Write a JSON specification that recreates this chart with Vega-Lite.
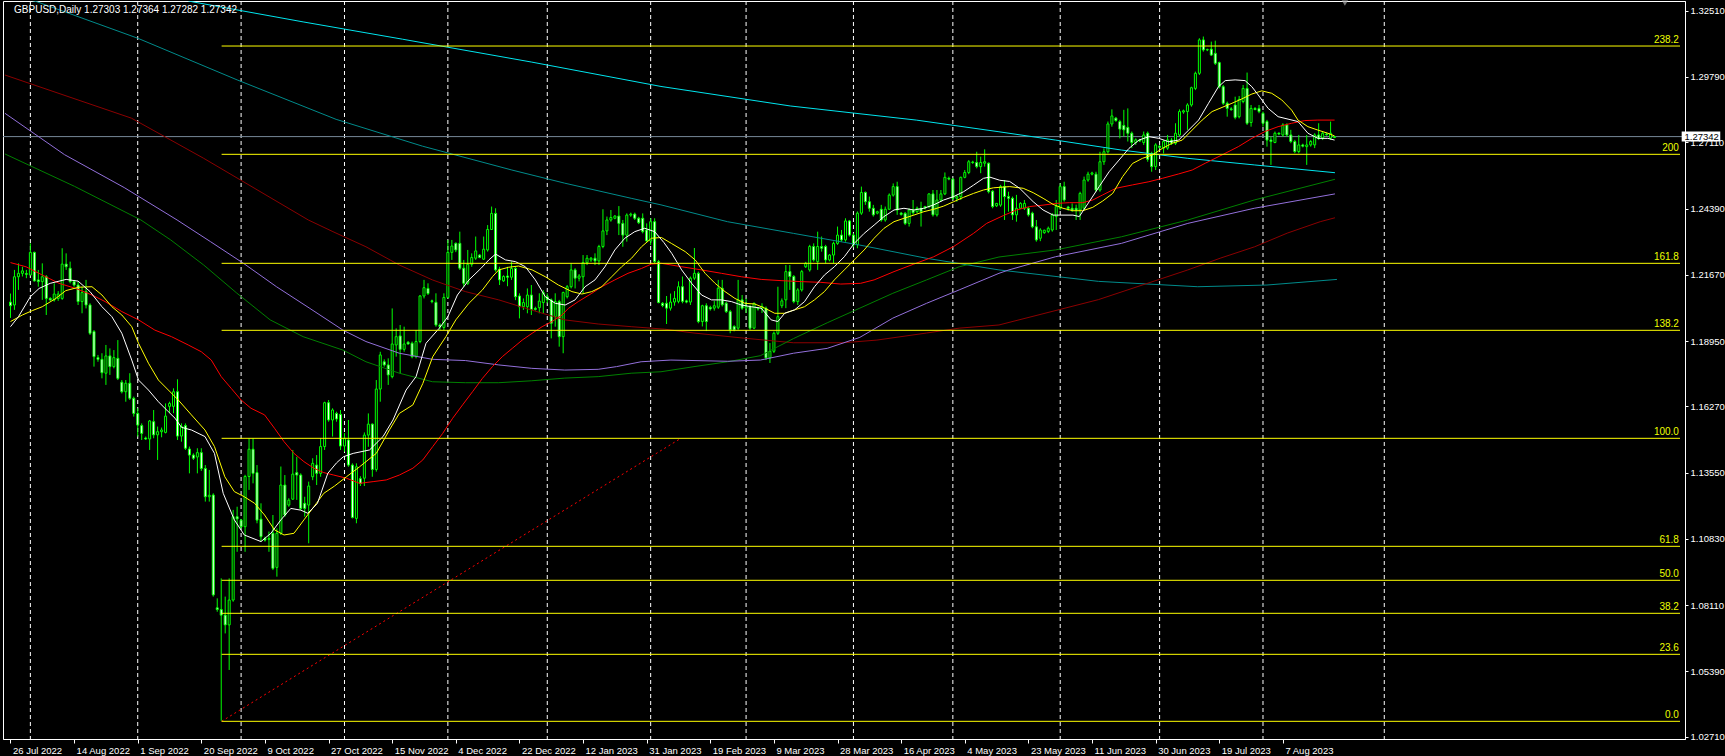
{
"$schema":"https://vega.github.io/schema/vega-lite/v6.json",
"width":1682,"height":738,
"autosize":{"type":"none"},
"padding":{"left":3,"top":1,"right":40,"bottom":17},
"background":"#000000",
"config":{"view":{"stroke":"#FFFFFF","strokeWidth":1,"fill":"#000000"},"axis":{"labelFont":"Liberation Sans","labelFontSize":9.5,"labelColor":"#FFFFFF","tickColor":"#FFFFFF","domainColor":"#FFFFFF","grid":false}},
"datasets":{
"grid":[{"g":5},{"g":32},{"g":58},{"g":84},{"g":110},{"g":135},{"g":161},{"g":185},{"g":212},{"g":237},{"g":264},{"g":289},{"g":315},{"g":345.5}],
"fib":[{"lv":"0.0","p":1.03342},{"lv":"23.6","p":1.06092},{"lv":"38.2","p":1.07775},{"lv":"50.0","p":1.0913},{"lv":"61.8","p":1.10525},{"lv":"100.0","p":1.14958},{"lv":"138.2","p":1.19391},{"lv":"161.8","p":1.22141},{"lv":"200","p":1.26615},{"lv":"238.2","p":1.3106}],
"tl":[{"i":53.1,"v":1.03342},{"i":168.6,"v":1.14958}],
"candles":[
{"i":0,"o":1.2055,"h":1.209,"l":1.199,"c":1.204},
{"i":1,"o":1.2043,"h":1.2187,"l":1.2023,"c":1.2159},
{"i":2,"o":1.2159,"h":1.2214,"l":1.2105,"c":1.2173},
{"i":3,"o":1.2173,"h":1.22,"l":1.216,"c":1.2183},
{"i":4,"o":1.2172,"h":1.2187,"l":1.2153,"c":1.2169},
{"i":5,"o":1.2166,"h":1.2296,"l":1.2166,"c":1.2259},
{"i":6,"o":1.2259,"h":1.2262,"l":1.2139,"c":1.2142},
{"i":7,"o":1.2146,"h":1.2187,"l":1.2118,"c":1.2139},
{"i":8,"o":1.2139,"h":1.2214,"l":1.2064,"c":1.2159},
{"i":9,"o":1.2159,"h":1.2166,"l":1.2002,"c":1.207},
{"i":10,"o":1.207,"h":1.2075,"l":1.206,"c":1.2064},
{"i":11,"o":1.2064,"h":1.2132,"l":1.2057,"c":1.2088},
{"i":12,"o":1.207,"h":1.21,"l":1.206,"c":1.2088},
{"i":13,"o":1.207,"h":1.2276,"l":1.2064,"c":1.2211},
{"i":14,"o":1.2211,"h":1.2255,"l":1.2187,"c":1.22},
{"i":15,"o":1.2194,"h":1.2221,"l":1.2132,"c":1.2139},
{"i":16,"o":1.2139,"h":1.2146,"l":1.2118,"c":1.2125},
{"i":17,"o":1.2125,"h":1.2139,"l":1.2043,"c":1.2057},
{"i":18,"o":1.2057,"h":1.2118,"l":1.2009,"c":1.2094},
{"i":19,"o":1.2098,"h":1.2146,"l":1.2029,"c":1.2043},
{"i":20,"o":1.2043,"h":1.205,"l":1.192,"c":1.1927},
{"i":21,"o":1.1934,"h":1.194,"l":1.179,"c":1.1831},
{"i":22,"o":1.1827,"h":1.1838,"l":1.181,"c":1.182},
{"i":23,"o":1.182,"h":1.1845,"l":1.1742,"c":1.1765},
{"i":24,"o":1.1763,"h":1.1879,"l":1.1715,"c":1.1834},
{"i":25,"o":1.1834,"h":1.1865,"l":1.1756,"c":1.179},
{"i":26,"o":1.179,"h":1.1858,"l":1.1783,"c":1.1827},
{"i":27,"o":1.1824,"h":1.1899,"l":1.1735,"c":1.1742},
{"i":28,"o":1.1726,"h":1.1735,"l":1.168,"c":1.1687},
{"i":29,"o":1.1687,"h":1.1735,"l":1.1646,"c":1.1722},
{"i":30,"o":1.1722,"h":1.1763,"l":1.1653,"c":1.166},
{"i":31,"o":1.166,"h":1.1667,"l":1.1585,"c":1.1598},
{"i":32,"o":1.1598,"h":1.1619,"l":1.1503,"c":1.155},
{"i":33,"o":1.1548,"h":1.1557,"l":1.1489,"c":1.1516},
{"i":34,"o":1.1497,"h":1.1503,"l":1.1489,"c":1.1493},
{"i":35,"o":1.1493,"h":1.1571,"l":1.1448,"c":1.1567},
{"i":36,"o":1.1564,"h":1.1612,"l":1.1496,"c":1.151},
{"i":37,"o":1.151,"h":1.1544,"l":1.1407,"c":1.1523},
{"i":38,"o":1.1523,"h":1.154,"l":1.15,"c":1.153},
{"i":39,"o":1.152,"h":1.1639,"l":1.1516,"c":1.1587},
{"i":40,"o":1.1627,"h":1.1646,"l":1.16,"c":1.1639},
{"i":41,"o":1.1627,"h":1.1701,"l":1.1599,"c":1.1687},
{"i":42,"o":1.1687,"h":1.1738,"l":1.1489,"c":1.1505},
{"i":43,"o":1.1505,"h":1.1557,"l":1.1482,"c":1.1544},
{"i":44,"o":1.1548,"h":1.1557,"l":1.1448,"c":1.1455},
{"i":45,"o":1.1452,"h":1.1462,"l":1.1352,"c":1.1427},
{"i":46,"o":1.1427,"h":1.1434,"l":1.1407,"c":1.1414},
{"i":47,"o":1.1419,"h":1.1455,"l":1.1352,"c":1.1437},
{"i":48,"o":1.1437,"h":1.1455,"l":1.1362,"c":1.1372},
{"i":49,"o":1.1372,"h":1.1386,"l":1.1236,"c":1.1256},
{"i":50,"o":1.1256,"h":1.1366,"l":1.1236,"c":1.1262},
{"i":51,"o":1.1263,"h":1.127,"l":1.0846,"c":1.0853},
{"i":52,"o":1.08,"h":1.0839,"l":1.0784,"c":1.0793},
{"i":53,"o":1.0793,"h":1.0921,"l":1.0336,"c":1.077},
{"i":54,"o":1.077,"h":1.0846,"l":1.0695,"c":1.073},
{"i":55,"o":1.073,"h":1.0921,"l":1.0545,"c":1.0832},
{"i":56,"o":1.0832,"h":1.1202,"l":1.0825,"c":1.1174},
{"i":57,"o":1.1174,"h":1.1215,"l":1.103,"c":1.1165},
{"i":58,"o":1.116,"h":1.1165,"l":1.1125,"c":1.1133},
{"i":59,"o":1.1133,"h":1.1346,"l":1.103,"c":1.1339},
{"i":60,"o":1.1339,"h":1.1496,"l":1.1284,"c":1.1451},
{"i":61,"o":1.1451,"h":1.1496,"l":1.1311,"c":1.1352},
{"i":62,"o":1.1355,"h":1.1386,"l":1.1147,"c":1.116},
{"i":63,"o":1.1164,"h":1.1229,"l":1.1072,"c":1.1092},
{"i":64,"o":1.1085,"h":1.1092,"l":1.1072,"c":1.1078},
{"i":65,"o":1.1081,"h":1.1113,"l":1.103,"c":1.1085},
{"i":66,"o":1.1106,"h":1.1181,"l":1.0955,"c":1.0962},
{"i":67,"o":1.0966,"h":1.1126,"l":1.0928,"c":1.1106},
{"i":68,"o":1.1106,"h":1.138,"l":1.1099,"c":1.1304},
{"i":69,"o":1.1304,"h":1.1345,"l":1.1174,"c":1.1181},
{"i":70,"o":1.1222,"h":1.125,"l":1.1215,"c":1.1242},
{"i":71,"o":1.1246,"h":1.1448,"l":1.1243,"c":1.1349},
{"i":72,"o":1.1355,"h":1.142,"l":1.1243,"c":1.1345},
{"i":73,"o":1.1345,"h":1.1352,"l":1.1201,"c":1.1208},
{"i":74,"o":1.1229,"h":1.1256,"l":1.1174,"c":1.1208},
{"i":75,"o":1.1222,"h":1.1318,"l":1.1065,"c":1.13},
{"i":76,"o":1.1338,"h":1.1414,"l":1.1324,"c":1.1393},
{"i":77,"o":1.1386,"h":1.1427,"l":1.1304,"c":1.1352},
{"i":78,"o":1.1352,"h":1.1496,"l":1.1338,"c":1.1462},
{"i":79,"o":1.1462,"h":1.1646,"l":1.1448,"c":1.1642},
{"i":80,"o":1.1642,"h":1.1653,"l":1.1564,"c":1.1571},
{"i":81,"o":1.1571,"h":1.1619,"l":1.1503,"c":1.1612},
{"i":82,"o":1.1598,"h":1.1605,"l":1.1564,"c":1.1575},
{"i":83,"o":1.1594,"h":1.1612,"l":1.1448,"c":1.1464},
{"i":84,"o":1.1464,"h":1.1517,"l":1.1441,"c":1.1496},
{"i":85,"o":1.1489,"h":1.1571,"l":1.1379,"c":1.1386},
{"i":86,"o":1.1386,"h":1.1393,"l":1.1167,"c":1.1171},
{"i":87,"o":1.1167,"h":1.1393,"l":1.1147,"c":1.1379},
{"i":88,"o":1.133,"h":1.134,"l":1.13,"c":1.131},
{"i":89,"o":1.1332,"h":1.152,"l":1.13,"c":1.1509},
{"i":90,"o":1.1509,"h":1.1598,"l":1.1461,"c":1.1554},
{"i":91,"o":1.1554,"h":1.1557,"l":1.1338,"c":1.1368},
{"i":92,"o":1.1368,"h":1.1735,"l":1.1359,"c":1.1698},
{"i":93,"o":1.1698,"h":1.1851,"l":1.1646,"c":1.1838},
{"i":94,"o":1.181,"h":1.182,"l":1.179,"c":1.1797},
{"i":95,"o":1.1797,"h":1.1824,"l":1.1715,"c":1.1756},
{"i":96,"o":1.1749,"h":1.2029,"l":1.1742,"c":1.1883},
{"i":97,"o":1.1879,"h":1.1947,"l":1.1831,"c":1.1913},
{"i":98,"o":1.1916,"h":1.1961,"l":1.1762,"c":1.1861},
{"i":99,"o":1.1861,"h":1.1954,"l":1.1851,"c":1.1883},
{"i":100,"o":1.189,"h":1.1895,"l":1.188,"c":1.1883},
{"i":101,"o":1.1886,"h":1.1893,"l":1.1824,"c":1.1831},
{"i":102,"o":1.1831,"h":1.194,"l":1.1824,"c":1.1893},
{"i":103,"o":1.1893,"h":1.2084,"l":1.1886,"c":1.208},
{"i":104,"o":1.208,"h":1.2146,"l":1.207,"c":1.2114},
{"i":105,"o":1.2111,"h":1.2132,"l":1.2084,"c":1.209},
{"i":106,"o":1.206,"h":1.2065,"l":1.205,"c":1.2057},
{"i":107,"o":1.2054,"h":1.2091,"l":1.1954,"c":1.1961},
{"i":108,"o":1.1961,"h":1.1968,"l":1.194,"c":1.1954},
{"i":109,"o":1.1951,"h":1.2091,"l":1.194,"c":1.2074},
{"i":110,"o":1.2074,"h":1.231,"l":1.207,"c":1.2259},
{"i":111,"o":1.2259,"h":1.231,"l":1.2228,"c":1.2285},
{"i":112,"o":1.2296,"h":1.23,"l":1.226,"c":1.2269},
{"i":113,"o":1.2296,"h":1.2344,"l":1.2187,"c":1.2194},
{"i":114,"o":1.2194,"h":1.2228,"l":1.2118,"c":1.2132},
{"i":115,"o":1.2132,"h":1.2269,"l":1.2125,"c":1.221},
{"i":116,"o":1.221,"h":1.2255,"l":1.22,"c":1.2238},
{"i":117,"o":1.2235,"h":1.2324,"l":1.2228,"c":1.2265},
{"i":118,"o":1.2248,"h":1.2252,"l":1.2235,"c":1.2238},
{"i":119,"o":1.2231,"h":1.2324,"l":1.2228,"c":1.2272},
{"i":120,"o":1.2269,"h":1.2371,"l":1.2262,"c":1.2353},
{"i":121,"o":1.2353,"h":1.2447,"l":1.2351,"c":1.2419},
{"i":122,"o":1.2419,"h":1.244,"l":1.218,"c":1.2187},
{"i":123,"o":1.219,"h":1.22,"l":1.2125,"c":1.2146},
{"i":124,"o":1.2142,"h":1.2165,"l":1.2138,"c":1.216},
{"i":125,"o":1.2162,"h":1.22,"l":1.212,"c":1.2157},
{"i":126,"o":1.2157,"h":1.2221,"l":1.2146,"c":1.2193},
{"i":127,"o":1.2193,"h":1.22,"l":1.2063,"c":1.2077},
{"i":128,"o":1.208,"h":1.2091,"l":1.1988,"c":1.2036},
{"i":129,"o":1.2036,"h":1.207,"l":1.2023,"c":1.2053},
{"i":130,"o":1.2036,"h":1.2111,"l":1.2009,"c":1.2084},
{"i":131,"o":1.2084,"h":1.2125,"l":1.2002,"c":1.2025},
{"i":132,"o":1.2029,"h":1.2036,"l":1.202,"c":1.2025},
{"i":133,"o":1.2032,"h":1.2091,"l":1.2009,"c":1.2059},
{"i":134,"o":1.2053,"h":1.2104,"l":1.2009,"c":1.2094},
{"i":135,"o":1.2077,"h":1.2091,"l":1.205,"c":1.2064},
{"i":136,"o":1.2064,"h":1.207,"l":1.1906,"c":1.1968},
{"i":137,"o":1.1995,"h":1.2091,"l":1.1954,"c":1.2057},
{"i":138,"o":1.2057,"h":1.2064,"l":1.1872,"c":1.1913},
{"i":139,"o":1.1913,"h":1.2098,"l":1.1845,"c":1.2094},
{"i":140,"o":1.2077,"h":1.2125,"l":1.207,"c":1.2118},
{"i":141,"o":1.2118,"h":1.2214,"l":1.2111,"c":1.2187},
{"i":142,"o":1.2187,"h":1.2194,"l":1.2111,"c":1.2153},
{"i":143,"o":1.2153,"h":1.217,"l":1.214,"c":1.2162},
{"i":144,"o":1.2159,"h":1.2248,"l":1.2091,"c":1.2217},
{"i":145,"o":1.2217,"h":1.2248,"l":1.2207,"c":1.2235},
{"i":146,"o":1.2228,"h":1.224,"l":1.222,"c":1.2235},
{"i":147,"o":1.2235,"h":1.2255,"l":1.2207,"c":1.2224},
{"i":148,"o":1.2224,"h":1.229,"l":1.2207,"c":1.2283},
{"i":149,"o":1.2283,"h":1.2436,"l":1.2276,"c":1.2347},
{"i":150,"o":1.2347,"h":1.2406,"l":1.233,"c":1.2392},
{"i":151,"o":1.2392,"h":1.2433,"l":1.2385,"c":1.2402},
{"i":152,"o":1.2399,"h":1.2412,"l":1.2395,"c":1.2408},
{"i":153,"o":1.2408,"h":1.2449,"l":1.233,"c":1.2378},
{"i":154,"o":1.2378,"h":1.2392,"l":1.2282,"c":1.233},
{"i":155,"o":1.233,"h":1.2419,"l":1.2303,"c":1.2412},
{"i":156,"o":1.2412,"h":1.2422,"l":1.2405,"c":1.2416},
{"i":157,"o":1.2416,"h":1.2422,"l":1.2392,"c":1.2399},
{"i":158,"o":1.2399,"h":1.2405,"l":1.2375,"c":1.2381},
{"i":159,"o":1.2399,"h":1.2419,"l":1.2337,"c":1.2344},
{"i":160,"o":1.2351,"h":1.2378,"l":1.2303,"c":1.2306},
{"i":161,"o":1.2306,"h":1.2399,"l":1.2289,"c":1.2385},
{"i":162,"o":1.2385,"h":1.2399,"l":1.2214,"c":1.2221},
{"i":163,"o":1.2221,"h":1.2228,"l":1.205,"c":1.2053},
{"i":164,"o":1.205,"h":1.2055,"l":1.2034,"c":1.2041},
{"i":165,"o":1.205,"h":1.208,"l":1.1965,"c":1.203},
{"i":166,"o":1.203,"h":1.209,"l":1.202,"c":1.2055},
{"i":167,"o":1.2055,"h":1.21,"l":1.204,"c":1.207},
{"i":168,"o":1.2058,"h":1.214,"l":1.205,"c":1.2118},
{"i":169,"o":1.2118,"h":1.216,"l":1.205,"c":1.2058},
{"i":170,"o":1.206,"h":1.2065,"l":1.205,"c":1.2055},
{"i":171,"o":1.2055,"h":1.216,"l":1.2043,"c":1.2153},
{"i":172,"o":1.2153,"h":1.2277,"l":1.2146,"c":1.2173},
{"i":173,"o":1.2173,"h":1.218,"l":1.1968,"c":1.1975},
{"i":174,"o":1.1975,"h":1.2044,"l":1.1955,"c":1.204},
{"i":175,"o":1.204,"h":1.205,"l":1.1936,"c":1.1975},
{"i":176,"o":1.2033,"h":1.204,"l":1.202,"c":1.2027},
{"i":177,"o":1.203,"h":1.206,"l":1.202,"c":1.204},
{"i":178,"o":1.2034,"h":1.2146,"l":1.2027,"c":1.2112},
{"i":179,"o":1.2112,"h":1.2146,"l":1.2037,"c":1.2044},
{"i":180,"o":1.205,"h":1.2057,"l":1.201,"c":1.2016},
{"i":181,"o":1.2016,"h":1.2023,"l":1.1927,"c":1.1941},
{"i":182,"o":1.1955,"h":1.196,"l":1.1935,"c":1.1941},
{"i":183,"o":1.1948,"h":1.2146,"l":1.1941,"c":1.2064},
{"i":184,"o":1.2064,"h":1.2084,"l":1.2023,"c":1.203},
{"i":185,"o":1.203,"h":1.207,"l":1.201,"c":1.2037},
{"i":186,"o":1.2037,"h":1.2044,"l":1.1941,"c":1.1948},
{"i":187,"o":1.1948,"h":1.2053,"l":1.1944,"c":1.205},
{"i":188,"o":1.203,"h":1.2035,"l":1.202,"c":1.2027},
{"i":189,"o":1.2027,"h":1.205,"l":1.201,"c":1.2037},
{"i":190,"o":1.203,"h":1.2037,"l":1.1817,"c":1.1826},
{"i":191,"o":1.1826,"h":1.1887,"l":1.1805,"c":1.1853},
{"i":192,"o":1.1853,"h":1.1934,"l":1.1846,"c":1.1927},
{"i":193,"o":1.1927,"h":1.2118,"l":1.192,"c":1.1995},
{"i":194,"o":1.204,"h":1.207,"l":1.203,"c":1.206},
{"i":195,"o":1.2064,"h":1.2207,"l":1.203,"c":1.218},
{"i":196,"o":1.218,"h":1.2207,"l":1.2105,"c":1.216},
{"i":197,"o":1.216,"h":1.2166,"l":1.205,"c":1.2057},
{"i":198,"o":1.2057,"h":1.2112,"l":1.2043,"c":1.2105},
{"i":199,"o":1.2105,"h":1.2187,"l":1.2098,"c":1.218},
{"i":200,"o":1.22,"h":1.222,"l":1.2195,"c":1.2214},
{"i":201,"o":1.2187,"h":1.229,"l":1.218,"c":1.2283},
{"i":202,"o":1.2283,"h":1.2296,"l":1.2221,"c":1.2228},
{"i":203,"o":1.2221,"h":1.2344,"l":1.2187,"c":1.2283},
{"i":204,"o":1.2283,"h":1.2324,"l":1.2262,"c":1.2276},
{"i":205,"o":1.2283,"h":1.229,"l":1.2214,"c":1.2228},
{"i":206,"o":1.2228,"h":1.2252,"l":1.2222,"c":1.2248},
{"i":207,"o":1.2248,"h":1.2303,"l":1.2214,"c":1.2296},
{"i":208,"o":1.2296,"h":1.2365,"l":1.229,"c":1.233},
{"i":209,"o":1.233,"h":1.2351,"l":1.2303,"c":1.231},
{"i":210,"o":1.231,"h":1.2399,"l":1.2303,"c":1.2388},
{"i":211,"o":1.2388,"h":1.2392,"l":1.2324,"c":1.233},
{"i":212,"o":1.233,"h":1.2337,"l":1.228,"c":1.229},
{"i":213,"o":1.229,"h":1.2427,"l":1.2276,"c":1.242},
{"i":214,"o":1.242,"h":1.2529,"l":1.2413,"c":1.2505},
{"i":215,"o":1.2505,"h":1.2509,"l":1.2454,"c":1.2467},
{"i":216,"o":1.2467,"h":1.2488,"l":1.2426,"c":1.244},
{"i":217,"o":1.244,"h":1.2454,"l":1.2406,"c":1.2413},
{"i":218,"o":1.242,"h":1.243,"l":1.2415,"c":1.2426},
{"i":219,"o":1.2436,"h":1.2454,"l":1.2385,"c":1.2392},
{"i":220,"o":1.2392,"h":1.2447,"l":1.2385,"c":1.2436},
{"i":221,"o":1.2436,"h":1.2501,"l":1.2433,"c":1.2494},
{"i":222,"o":1.2494,"h":1.2542,"l":1.2488,"c":1.2529},
{"i":223,"o":1.2529,"h":1.2549,"l":1.2413,"c":1.2433},
{"i":224,"o":1.242,"h":1.2425,"l":1.241,"c":1.2415},
{"i":225,"o":1.2419,"h":1.2425,"l":1.2371,"c":1.2378},
{"i":226,"o":1.2378,"h":1.244,"l":1.2365,"c":1.2433},
{"i":227,"o":1.2433,"h":1.2474,"l":1.2413,"c":1.2422},
{"i":228,"o":1.2426,"h":1.2447,"l":1.242,"c":1.244},
{"i":229,"o":1.244,"h":1.2467,"l":1.2365,"c":1.2426},
{"i":230,"o":1.244,"h":1.245,"l":1.2435,"c":1.2447},
{"i":231,"o":1.2447,"h":1.2501,"l":1.244,"c":1.2499},
{"i":232,"o":1.2499,"h":1.2515,"l":1.2406,"c":1.2413},
{"i":233,"o":1.2413,"h":1.2515,"l":1.2406,"c":1.2474},
{"i":234,"o":1.2474,"h":1.2515,"l":1.2467,"c":1.2499},
{"i":235,"o":1.2499,"h":1.2587,"l":1.2494,"c":1.2567},
{"i":236,"o":1.2563,"h":1.257,"l":1.2555,"c":1.256},
{"i":237,"o":1.256,"h":1.2563,"l":1.2474,"c":1.2481},
{"i":238,"o":1.2481,"h":1.2495,"l":1.2467,"c":1.2488},
{"i":239,"o":1.2488,"h":1.257,"l":1.2474,"c":1.2567},
{"i":240,"o":1.2567,"h":1.2597,"l":1.2563,"c":1.2587},
{"i":241,"o":1.2587,"h":1.2638,"l":1.258,"c":1.2631},
{"i":242,"o":1.263,"h":1.2635,"l":1.2622,"c":1.2628},
{"i":243,"o":1.2628,"h":1.2672,"l":1.2604,"c":1.2611},
{"i":244,"o":1.2611,"h":1.2652,"l":1.2584,"c":1.2628},
{"i":245,"o":1.2625,"h":1.2682,"l":1.2611,"c":1.2631},
{"i":246,"o":1.2625,"h":1.2628,"l":1.2501,"c":1.2508},
{"i":247,"o":1.251,"h":1.2515,"l":1.244,"c":1.2447},
{"i":248,"o":1.245,"h":1.2462,"l":1.2445,"c":1.246},
{"i":249,"o":1.2453,"h":1.2536,"l":1.2446,"c":1.2529},
{"i":250,"o":1.2529,"h":1.2556,"l":1.2392,"c":1.2488},
{"i":251,"o":1.2488,"h":1.2508,"l":1.2426,"c":1.2481},
{"i":252,"o":1.2481,"h":1.2488,"l":1.2392,"c":1.2413},
{"i":253,"o":1.2413,"h":1.2495,"l":1.2385,"c":1.244},
{"i":254,"o":1.244,"h":1.2465,"l":1.2438,"c":1.246},
{"i":255,"o":1.244,"h":1.2474,"l":1.2433,"c":1.246},
{"i":256,"o":1.244,"h":1.2445,"l":1.2406,"c":1.2413},
{"i":257,"o":1.242,"h":1.2426,"l":1.2358,"c":1.2364},
{"i":258,"o":1.2364,"h":1.2392,"l":1.2303,"c":1.231},
{"i":259,"o":1.2317,"h":1.2358,"l":1.2305,"c":1.2351},
{"i":260,"o":1.234,"h":1.2352,"l":1.2335,"c":1.235},
{"i":261,"o":1.2345,"h":1.2365,"l":1.2338,"c":1.2358},
{"i":262,"o":1.2351,"h":1.242,"l":1.2344,"c":1.2413},
{"i":263,"o":1.2406,"h":1.2474,"l":1.2351,"c":1.2447},
{"i":264,"o":1.244,"h":1.2542,"l":1.2433,"c":1.2529},
{"i":265,"o":1.2529,"h":1.2549,"l":1.2467,"c":1.2474},
{"i":266,"o":1.2445,"h":1.245,"l":1.243,"c":1.244},
{"i":267,"o":1.244,"h":1.246,"l":1.2425,"c":1.2433},
{"i":268,"o":1.244,"h":1.2455,"l":1.2392,"c":1.2433},
{"i":269,"o":1.2433,"h":1.2508,"l":1.2392,"c":1.2501},
{"i":270,"o":1.244,"h":1.257,"l":1.2433,"c":1.2556},
{"i":271,"o":1.2556,"h":1.259,"l":1.2549,"c":1.258},
{"i":272,"o":1.258,"h":1.259,"l":1.2575,"c":1.2585},
{"i":273,"o":1.258,"h":1.259,"l":1.2508,"c":1.2515},
{"i":274,"o":1.2515,"h":1.2672,"l":1.2508,"c":1.2631},
{"i":275,"o":1.2631,"h":1.2686,"l":1.2618,"c":1.2672},
{"i":276,"o":1.2672,"h":1.2796,"l":1.2665,"c":1.2786},
{"i":277,"o":1.2786,"h":1.2846,"l":1.2775,"c":1.2819},
{"i":278,"o":1.281,"h":1.2815,"l":1.2795,"c":1.28},
{"i":279,"o":1.2796,"h":1.2803,"l":1.2727,"c":1.2765},
{"i":280,"o":1.278,"h":1.2844,"l":1.2735,"c":1.2762},
{"i":281,"o":1.2772,"h":1.285,"l":1.2714,"c":1.2748},
{"i":282,"o":1.2748,"h":1.2755,"l":1.2687,"c":1.271},
{"i":283,"o":1.271,"h":1.2727,"l":1.27,"c":1.2721},
{"i":284,"o":1.272,"h":1.2725,"l":1.2712,"c":1.2716},
{"i":285,"o":1.271,"h":1.2755,"l":1.27,"c":1.2741},
{"i":286,"o":1.2748,"h":1.2755,"l":1.2631,"c":1.2641},
{"i":287,"o":1.2665,"h":1.2672,"l":1.259,"c":1.2611},
{"i":288,"o":1.2611,"h":1.2707,"l":1.2597,"c":1.27},
{"i":289,"o":1.2695,"h":1.27,"l":1.2685,"c":1.269},
{"i":290,"o":1.2687,"h":1.272,"l":1.2665,"c":1.2714},
{"i":291,"o":1.2687,"h":1.2741,"l":1.268,"c":1.2721},
{"i":292,"o":1.272,"h":1.2728,"l":1.27,"c":1.2707},
{"i":293,"o":1.2707,"h":1.2789,"l":1.27,"c":1.2748},
{"i":294,"o":1.2741,"h":1.2846,"l":1.2734,"c":1.2837},
{"i":295,"o":1.2835,"h":1.2845,"l":1.2828,"c":1.284},
{"i":296,"o":1.2837,"h":1.2871,"l":1.2762,"c":1.2864},
{"i":297,"o":1.2864,"h":1.2939,"l":1.2857,"c":1.2935},
{"i":298,"o":1.2932,"h":1.3001,"l":1.2925,"c":1.2994},
{"i":299,"o":1.2994,"h":1.3138,"l":1.2987,"c":1.3131},
{"i":300,"o":1.3131,"h":1.3145,"l":1.3083,"c":1.309},
{"i":301,"o":1.309,"h":1.3095,"l":1.3085,"c":1.3092},
{"i":302,"o":1.3093,"h":1.3124,"l":1.3065,"c":1.3069},
{"i":303,"o":1.3076,"h":1.3128,"l":1.3028,"c":1.3035},
{"i":304,"o":1.3038,"h":1.3042,"l":1.2932,"c":1.2939},
{"i":305,"o":1.2939,"h":1.2946,"l":1.2864,"c":1.2871},
{"i":306,"o":1.2871,"h":1.2878,"l":1.2816,"c":1.285},
{"i":307,"o":1.2848,"h":1.2855,"l":1.284,"c":1.2845},
{"i":308,"o":1.2864,"h":1.2898,"l":1.2805,"c":1.2813},
{"i":309,"o":1.2816,"h":1.2901,"l":1.2809,"c":1.2887},
{"i":310,"o":1.2878,"h":1.2946,"l":1.2871,"c":1.2932},
{"i":311,"o":1.2932,"h":1.2997,"l":1.2782,"c":1.2789},
{"i":312,"o":1.2792,"h":1.2864,"l":1.2775,"c":1.285},
{"i":313,"o":1.285,"h":1.2855,"l":1.2843,"c":1.2845},
{"i":314,"o":1.285,"h":1.2864,"l":1.283,"c":1.2837},
{"i":315,"o":1.283,"h":1.2837,"l":1.2775,"c":1.2789},
{"i":316,"o":1.2796,"h":1.2803,"l":1.2693,"c":1.272},
{"i":317,"o":1.272,"h":1.2734,"l":1.2618,"c":1.2714},
{"i":318,"o":1.271,"h":1.2755,"l":1.2707,"c":1.2748},
{"i":319,"o":1.2748,"h":1.2752,"l":1.274,"c":1.2745},
{"i":320,"o":1.2741,"h":1.2789,"l":1.2734,"c":1.2782},
{"i":321,"o":1.2782,"h":1.2789,"l":1.2734,"c":1.2741},
{"i":322,"o":1.2741,"h":1.2762,"l":1.2707,"c":1.2714},
{"i":323,"o":1.2714,"h":1.2721,"l":1.2666,"c":1.2673},
{"i":324,"o":1.2673,"h":1.2741,"l":1.2666,"c":1.27},
{"i":325,"o":1.27,"h":1.2705,"l":1.269,"c":1.2695},
{"i":326,"o":1.2693,"h":1.2741,"l":1.2618,"c":1.27},
{"i":327,"o":1.27,"h":1.272,"l":1.2693,"c":1.2714},
{"i":328,"o":1.27,"h":1.2748,"l":1.2687,"c":1.2741},
{"i":329,"o":1.2741,"h":1.2789,"l":1.272,"c":1.2728},
{"i":330,"o":1.2728,"h":1.2755,"l":1.272,"c":1.2748},
{"i":331,"o":1.2745,"h":1.275,"l":1.2738,"c":1.2742},
{"i":332,"o":1.2728,"h":1.2796,"l":1.2721,"c":1.2748},
{"i":333,"o":1.27303,"h":1.27364,"l":1.27282,"c":1.27342}
],
"w":[{"i":0,"v":1.1954},{"i":2,"v":1.1995},{"i":5,"v":1.2077},{"i":7.2,"v":1.2111},{"i":10,"v":1.2132},{"i":14,"v":1.2148},{"i":17,"v":1.2141},{"i":20,"v":1.2098},{"i":23,"v":1.2036},{"i":25.5,"v":1.1995},{"i":28,"v":1.1927},{"i":30.5,"v":1.1817},{"i":32.2,"v":1.1735},{"i":34.7,"v":1.1694},{"i":37.2,"v":1.1646},{"i":39.7,"v":1.1605},{"i":41.4,"v":1.1578},{"i":43,"v":1.1541},{"i":45.5,"v":1.153},{"i":48.9,"v":1.1503},{"i":51.3,"v":1.1434},{"i":53.5,"v":1.127},{"i":56.3,"v":1.1161},{"i":58.8,"v":1.1099},{"i":63,"v":1.1072},{"i":65.5,"v":1.1106},{"i":68,"v":1.1161},{"i":70.5,"v":1.1208},{"i":73,"v":1.1201},{"i":74.8,"v":1.1188},{"i":77.2,"v":1.1229},{"i":79.8,"v":1.1352},{"i":82,"v":1.1395},{"i":83.7,"v":1.142},{"i":86.2,"v":1.1434},{"i":90.3,"v":1.1448},{"i":93.7,"v":1.1503},{"i":96.2,"v":1.1571},{"i":99.5,"v":1.1694},{"i":102,"v":1.1749},{"i":104.5,"v":1.1886},{"i":107.8,"v":1.1947},{"i":110,"v":1.1995},{"i":112.4,"v":1.2084},{"i":115.3,"v":1.2146},{"i":118.3,"v":1.2193},{"i":120.3,"v":1.2228},{"i":122,"v":1.2252},{"i":124.5,"v":1.2228},{"i":127,"v":1.2221},{"i":129.5,"v":1.22},{"i":132,"v":1.2146},{"i":134.5,"v":1.2077},{"i":137,"v":1.205},{"i":139.5,"v":1.2043},{"i":142,"v":1.2064},{"i":144.5,"v":1.2118},{"i":147,"v":1.2146},{"i":149.5,"v":1.22},{"i":152,"v":1.2269},{"i":154.5,"v":1.2317},{"i":157,"v":1.2344},{"i":159.5,"v":1.2358},{"i":162,"v":1.2344},{"i":164.3,"v":1.23},{"i":166.3,"v":1.2255},{"i":168.8,"v":1.2187},{"i":171.3,"v":1.2132},{"i":173.8,"v":1.2084},{"i":176.3,"v":1.2064},{"i":178.8,"v":1.2064},{"i":181.3,"v":1.2057},{"i":183.8,"v":1.2043},{"i":186.3,"v":1.2036},{"i":188.8,"v":1.203},{"i":191.3,"v":1.1982},{"i":193,"v":1.1975},{"i":194.7,"v":1.2009},{"i":197.2,"v":1.2023},{"i":199.7,"v":1.2057},{"i":202.2,"v":1.2118},{"i":204.7,"v":1.2166},{"i":207.2,"v":1.22},{"i":209.7,"v":1.2241},{"i":212.2,"v":1.2296},{"i":214.7,"v":1.2337},{"i":217.2,"v":1.2371},{"i":219.7,"v":1.2406},{"i":222.2,"v":1.2433},{"i":224.7,"v":1.244},{"i":227.2,"v":1.2433},{"i":229.7,"v":1.244},{"i":232.2,"v":1.2454},{"i":234.7,"v":1.2474},{"i":237.2,"v":1.2488},{"i":239.7,"v":1.2508},{"i":242.2,"v":1.2535},{"i":244.7,"v":1.2563},{"i":246.3,"v":1.2568},{"i":248.8,"v":1.2555},{"i":251.3,"v":1.255},{"i":253.8,"v":1.2522},{"i":257.2,"v":1.2467},{"i":259.7,"v":1.2433},{"i":262.2,"v":1.2412},{"i":264.7,"v":1.2412},{"i":267.2,"v":1.2412},{"i":268.8,"v":1.2406},{"i":271.3,"v":1.2467},{"i":273.8,"v":1.2529},{"i":276.3,"v":1.259},{"i":278.8,"v":1.2638},{"i":281.3,"v":1.2686},{"i":283.8,"v":1.272},{"i":286.3,"v":1.2734},{"i":288.8,"v":1.2727},{"i":291.3,"v":1.2713},{"i":293.8,"v":1.272},{"i":296.3,"v":1.2761},{"i":298.8,"v":1.2802},{"i":301.3,"v":1.2871},{"i":303.8,"v":1.2939},{"i":305.5,"v":1.2964},{"i":308,"v":1.2967},{"i":310.5,"v":1.2964},{"i":312.2,"v":1.2939},{"i":313.8,"v":1.2905},{"i":316.3,"v":1.285},{"i":318.8,"v":1.2816},{"i":321.3,"v":1.2806},{"i":323.8,"v":1.2796},{"i":326.3,"v":1.2748},{"i":328.8,"v":1.2727},{"i":331.3,"v":1.2727},{"i":333,"v":1.272}],
"y":[{"i":0,"v":1.1975},{"i":3,"v":1.2002},{"i":5.5,"v":1.202},{"i":8,"v":1.2036},{"i":11.4,"v":1.207},{"i":13.9,"v":1.2102},{"i":17.2,"v":1.2116},{"i":20.5,"v":1.2118},{"i":23,"v":1.2084},{"i":25.5,"v":1.2036},{"i":28,"v":1.2002},{"i":30.5,"v":1.1954},{"i":32.2,"v":1.1886},{"i":34.7,"v":1.1804},{"i":37.2,"v":1.1735},{"i":39.7,"v":1.1694},{"i":42.2,"v":1.1653},{"i":45.5,"v":1.1592},{"i":48.9,"v":1.153},{"i":51.3,"v":1.1462},{"i":53.9,"v":1.1338},{"i":56.3,"v":1.1277},{"i":58.8,"v":1.1256},{"i":61.4,"v":1.1229},{"i":63.9,"v":1.1181},{"i":66.4,"v":1.112},{"i":68.8,"v":1.1099},{"i":71.3,"v":1.1106},{"i":73.8,"v":1.1161},{"i":76.3,"v":1.1215},{"i":78.8,"v":1.127},{"i":81.5,"v":1.13},{"i":84.5,"v":1.1338},{"i":87.8,"v":1.1379},{"i":92,"v":1.1434},{"i":95.3,"v":1.153},{"i":97.8,"v":1.1598},{"i":101.2,"v":1.1633},{"i":103.7,"v":1.1721},{"i":106.2,"v":1.1831},{"i":109.5,"v":1.1913},{"i":112,"v":1.1982},{"i":115.3,"v":1.205},{"i":118.7,"v":1.2105},{"i":121.2,"v":1.2159},{"i":122.8,"v":1.2187},{"i":125.3,"v":1.2198},{"i":127.8,"v":1.2203},{"i":131.2,"v":1.2187},{"i":134.5,"v":1.2159},{"i":137.8,"v":1.2125},{"i":141.2,"v":1.2098},{"i":143.7,"v":1.2088},{"i":146.2,"v":1.2098},{"i":148.7,"v":1.2118},{"i":151.2,"v":1.2159},{"i":153.7,"v":1.22},{"i":156.2,"v":1.2235},{"i":158.7,"v":1.2282},{"i":161.2,"v":1.2317},{"i":163.7,"v":1.232},{"i":166.2,"v":1.2296},{"i":169.7,"v":1.2262},{"i":172.2,"v":1.2228},{"i":174.7,"v":1.2173},{"i":177.2,"v":1.2132},{"i":179.7,"v":1.2098},{"i":182.2,"v":1.207},{"i":184.7,"v":1.205},{"i":187.2,"v":1.2047},{"i":189.7,"v":1.203},{"i":192.2,"v":1.2009},{"i":194.7,"v":1.2009},{"i":197.2,"v":1.2023},{"i":199.7,"v":1.2036},{"i":202.2,"v":1.2064},{"i":204.7,"v":1.2098},{"i":207.2,"v":1.2146},{"i":209.7,"v":1.2187},{"i":212.2,"v":1.2228},{"i":214.7,"v":1.2269},{"i":217.2,"v":1.2317},{"i":219.7,"v":1.2358},{"i":222.2,"v":1.2385},{"i":224.7,"v":1.2399},{"i":227.2,"v":1.2412},{"i":229.7,"v":1.2426},{"i":232.2,"v":1.2436},{"i":234.7,"v":1.2449},{"i":237.2,"v":1.2467},{"i":239.7,"v":1.2485},{"i":242.2,"v":1.2501},{"i":244.7,"v":1.2515},{"i":247.2,"v":1.2524},{"i":251.3,"v":1.2529},{"i":254.7,"v":1.2522},{"i":257.2,"v":1.2504},{"i":259.7,"v":1.2481},{"i":262.2,"v":1.2456},{"i":264.7,"v":1.244},{"i":267.2,"v":1.243},{"i":269.7,"v":1.243},{"i":272.2,"v":1.2444},{"i":274.7,"v":1.247},{"i":277.2,"v":1.2501},{"i":279.7,"v":1.257},{"i":282.2,"v":1.2624},{"i":284.7,"v":1.2645},{"i":287.2,"v":1.2659},{"i":289.7,"v":1.2686},{"i":292.2,"v":1.2707},{"i":294.7,"v":1.272},{"i":297.2,"v":1.2761},{"i":299.7,"v":1.2802},{"i":302.2,"v":1.2837},{"i":304.7,"v":1.2854},{"i":307.2,"v":1.2871},{"i":309.7,"v":1.2889},{"i":312.2,"v":1.2909},{"i":314.7,"v":1.2922},{"i":317.2,"v":1.2912},{"i":319.7,"v":1.2885},{"i":322.2,"v":1.2843},{"i":323.8,"v":1.2802},{"i":326.3,"v":1.2775},{"i":328.8,"v":1.2761},{"i":331.3,"v":1.2748},{"i":333,"v":1.2737}],
"r":[{"i":0,"v":1.2217},{"i":3.9,"v":1.22},{"i":8,"v":1.2166},{"i":12.2,"v":1.2132},{"i":16.4,"v":1.2111},{"i":20.5,"v":1.2084},{"i":23.8,"v":1.2057},{"i":28,"v":1.2016},{"i":32.2,"v":1.1982},{"i":36.3,"v":1.194},{"i":40.5,"v":1.1913},{"i":44.7,"v":1.1879},{"i":48,"v":1.1851},{"i":50.5,"v":1.1817},{"i":53,"v":1.1749},{"i":55.5,"v":1.1701},{"i":58,"v":1.1653},{"i":60.5,"v":1.1619},{"i":63.9,"v":1.1592},{"i":66.4,"v":1.1537},{"i":68.8,"v":1.1482},{"i":71.3,"v":1.1434},{"i":73.8,"v":1.14},{"i":76.3,"v":1.1373},{"i":78.8,"v":1.1355},{"i":81.3,"v":1.1345},{"i":84.5,"v":1.1332},{"i":87.8,"v":1.1311},{"i":91.2,"v":1.1318},{"i":94.5,"v":1.1325},{"i":97.8,"v":1.1345},{"i":101.2,"v":1.1373},{"i":103.7,"v":1.1407},{"i":106.2,"v":1.1462},{"i":108.7,"v":1.1516},{"i":111.2,"v":1.1578},{"i":113.7,"v":1.1633},{"i":116.2,"v":1.1687},{"i":118.7,"v":1.1742},{"i":121.2,"v":1.179},{"i":123.7,"v":1.1831},{"i":126.2,"v":1.1865},{"i":128.7,"v":1.1899},{"i":131.2,"v":1.1927},{"i":133.7,"v":1.1954},{"i":136.2,"v":1.1975},{"i":138.7,"v":1.2002},{"i":140.3,"v":1.2029},{"i":142.8,"v":1.2057},{"i":146.2,"v":1.2091},{"i":148.7,"v":1.2118},{"i":152,"v":1.2146},{"i":155.3,"v":1.2173},{"i":158.7,"v":1.2193},{"i":161.2,"v":1.2211},{"i":163.7,"v":1.2214},{"i":168.8,"v":1.22},{"i":173.8,"v":1.2187},{"i":178.8,"v":1.2173},{"i":183.8,"v":1.2159},{"i":188.8,"v":1.2148},{"i":193.8,"v":1.2143},{"i":198.8,"v":1.2139},{"i":203.8,"v":1.2136},{"i":208.8,"v":1.2129},{"i":213.8,"v":1.2132},{"i":217.2,"v":1.2146},{"i":222.2,"v":1.218},{"i":227.2,"v":1.2211},{"i":232.2,"v":1.2241},{"i":237.2,"v":1.2283},{"i":242.2,"v":1.2337},{"i":245.5,"v":1.2378},{"i":249.7,"v":1.241},{"i":253,"v":1.2433},{"i":256.3,"v":1.2447},{"i":259.7,"v":1.2453},{"i":263,"v":1.246},{"i":266.3,"v":1.2463},{"i":269.7,"v":1.2463},{"i":272.2,"v":1.2474},{"i":274.7,"v":1.2495},{"i":278,"v":1.2522},{"i":282.2,"v":1.2536},{"i":286.3,"v":1.2549},{"i":289.7,"v":1.2563},{"i":293.8,"v":1.2581},{"i":297.2,"v":1.2597},{"i":300.5,"v":1.2625},{"i":304.7,"v":1.2659},{"i":308.8,"v":1.2693},{"i":312.2,"v":1.2727},{"i":315.5,"v":1.2755},{"i":318.8,"v":1.2775},{"i":322.2,"v":1.2789},{"i":325.5,"v":1.28},{"i":328.8,"v":1.2802},{"i":333,"v":1.2802}],
"m":[{"i":-1.4,"v":1.2987},{"i":30.4,"v":1.281},{"i":48.6,"v":1.2645},{"i":74.9,"v":1.2392},{"i":81.1,"v":1.2344},{"i":89.4,"v":1.2282},{"i":97.8,"v":1.2207},{"i":106.1,"v":1.2146},{"i":114.4,"v":1.2098},{"i":122.8,"v":1.2064},{"i":131.1,"v":1.2022},{"i":139.4,"v":1.1982},{"i":147.8,"v":1.1965},{"i":156.1,"v":1.1954},{"i":164.4,"v":1.1944},{"i":171.9,"v":1.1928},{"i":184.4,"v":1.1907},{"i":196.9,"v":1.1888},{"i":209.4,"v":1.1888},{"i":217.9,"v":1.1899},{"i":230.4,"v":1.1928},{"i":238.6,"v":1.1948},{"i":248.6,"v":1.1961},{"i":273.6,"v":1.2065},{"i":296.1,"v":1.2187},{"i":304.4,"v":1.2236},{"i":312.9,"v":1.2282},{"i":321.1,"v":1.2338},{"i":329.4,"v":1.2385},{"i":333.1,"v":1.2401}],
"g":[{"i":-1.4,"v":1.2663},{"i":16.1,"v":1.253},{"i":32.8,"v":1.2392},{"i":40.3,"v":1.231},{"i":48.6,"v":1.2207},{"i":56.9,"v":1.2092},{"i":65.3,"v":1.1982},{"i":73.6,"v":1.1913},{"i":83.6,"v":1.1858},{"i":89.4,"v":1.181},{"i":97.8,"v":1.1763},{"i":106.1,"v":1.1728},{"i":114.4,"v":1.1724},{"i":122.8,"v":1.1724},{"i":131.1,"v":1.1732},{"i":139.4,"v":1.1743},{"i":147.8,"v":1.1749},{"i":156.1,"v":1.1763},{"i":163.6,"v":1.1769},{"i":171.9,"v":1.179},{"i":180.4,"v":1.181},{"i":188.6,"v":1.1835},{"i":196.9,"v":1.1905},{"i":205.4,"v":1.197},{"i":213.6,"v":1.203},{"i":221.9,"v":1.2091},{"i":230.4,"v":1.2146},{"i":238.6,"v":1.22},{"i":248.6,"v":1.224},{"i":262.8,"v":1.2269},{"i":279.4,"v":1.2323},{"i":296.1,"v":1.2392},{"i":312.8,"v":1.2474},{"i":333.1,"v":1.2559}],
"p":[{"i":-1.4,"v":1.283},{"i":13.6,"v":1.266},{"i":28.6,"v":1.2525},{"i":41.9,"v":1.2392},{"i":50.3,"v":1.2303},{"i":58.6,"v":1.2214},{"i":66.9,"v":1.2118},{"i":75.3,"v":1.2029},{"i":83.6,"v":1.194},{"i":89.4,"v":1.1893},{"i":97.8,"v":1.1845},{"i":106.1,"v":1.182},{"i":114.4,"v":1.1815},{"i":122.8,"v":1.1797},{"i":131.1,"v":1.1783},{"i":139.4,"v":1.1776},{"i":147.8,"v":1.1779},{"i":152.4,"v":1.179},{"i":158.6,"v":1.181},{"i":166.1,"v":1.1817},{"i":180.4,"v":1.1812},{"i":188.6,"v":1.1817},{"i":196.9,"v":1.1845},{"i":205.4,"v":1.1865},{"i":213.6,"v":1.191},{"i":221.9,"v":1.1989},{"i":230.4,"v":1.205},{"i":238.6,"v":1.2105},{"i":248.6,"v":1.2173},{"i":251.1,"v":1.2187},{"i":262.8,"v":1.2241},{"i":279.4,"v":1.2296},{"i":296.1,"v":1.2378},{"i":312.8,"v":1.244},{"i":333.1,"v":1.2499}],
"t":[{"i":-1.4,"v":1.332},{"i":6.6,"v":1.3288},{"i":32,"v":1.3138},{"i":57,"v":1.2967},{"i":81.9,"v":1.2805},{"i":103.6,"v":1.2695},{"i":126.1,"v":1.2597},{"i":139.4,"v":1.2543},{"i":156.1,"v":1.2481},{"i":163.6,"v":1.2454},{"i":180.3,"v":1.2385},{"i":196.9,"v":1.2337},{"i":213.6,"v":1.2289},{"i":230.3,"v":1.2235},{"i":248.6,"v":1.2187},{"i":273.6,"v":1.214},{"i":298.6,"v":1.2118},{"i":316,"v":1.2125},{"i":333.6,"v":1.2148}],
"c":[{"i":36.1,"v":1.333},{"i":45.6,"v":1.3288},{"i":73.6,"v":1.3205},{"i":98.6,"v":1.3134},{"i":131.1,"v":1.304},{"i":163.6,"v":1.294},{"i":196.1,"v":1.286},{"i":227.8,"v":1.2802},{"i":248.6,"v":1.2754},{"i":262.8,"v":1.272},{"i":279.4,"v":1.2679},{"i":296.1,"v":1.2645},{"i":312.8,"v":1.2618},{"i":333.1,"v":1.2586}]
},
"layer":[
{"data":{"name":"grid"},"mark":{"type":"rule","color":"#FFFFFF","strokeDash":[4,3],"strokeWidth":1},
 "encoding":{"x":{"field":"g","type":"quantitative","title":null,"scale":{"domain":[-0.625,419.875],"nice":false,"zero":false}}}},
{"data":{"values":[{"p":1.27342}]},"mark":{"type":"rule","color":"#778899","strokeWidth":1},
 "encoding":{"y":{"field":"p","type":"quantitative","title":null,"scale":{"domain":[1.02616,1.32908],"nice":false,"zero":false}}}},
{"data":{"name":"candles"},"mark":{"type":"rule","color":"#00FF00","strokeWidth":1},
 "encoding":{
  "x":{"field":"i","type":"quantitative","title":null,"scale":{"domain":[-0.625,419.875],"nice":false,"zero":false},
   "axis":{"orient":"bottom","values":[0,16,32,48,64,80,96,112,128,144,160,176,192,208,224,240,256,272,288,304,320],
    "labelExpr":"['26 Jul 2022','14 Aug 2022','1 Sep 2022','20 Sep 2022','9 Oct 2022','27 Oct 2022','15 Nov 2022','4 Dec 2022','22 Dec 2022','12 Jan 2023','31 Jan 2023','19 Feb 2023','9 Mar 2023','28 Mar 2023','16 Apr 2023','4 May 2023','23 May 2023','11 Jun 2023','30 Jun 2023','19 Jul 2023','7 Aug 2023'][round(datum.value/16)]",
    "labelAlign":"left","labelBaseline":"top","labelOffset":2,"tickSize":4,"labelPadding":2,"labelFlush":false,"labelOverlap":false}},
  "y":{"field":"l","type":"quantitative","title":null,"scale":{"domain":[1.02616,1.32908],"nice":false,"zero":false},
   "axis":{"orient":"right","values":[1.3251,1.3115,1.2979,1.2847,1.2711,1.2575,1.2439,1.2303,1.2167,1.2031,1.1895,1.1759,1.1627,1.1491,1.1355,1.1219,1.1083,1.0947,1.0811,1.0675,1.0539,1.0403,1.0271],
    "format":".5f","tickSize":3,"labelPadding":2,"labelFlush":false,"labelOverlap":false,"labelBaseline":"middle"}},
  "y2":{"field":"h"}}},
{"data":{"name":"candles"},"mark":{"type":"bar","orient":"vertical","size":2,"stroke":"#00FF00","strokeWidth":1},
 "encoding":{
  "x":{"field":"i","type":"quantitative","title":null},
  "y":{"field":"o","type":"quantitative","title":null},
  "y2":{"field":"c"},
  "fill":{"condition":{"test":"datum.c < datum.o","value":"#FFFFFF"},"value":"#000000"}}},
{"data":{"name":"t"},"mark":{"type":"line","color":"#008B8B","strokeWidth":1,"clip":true},"encoding":{"x":{"field":"i","type":"quantitative","title":null},"y":{"field":"v","type":"quantitative","title":null}}},
{"data":{"name":"c"},"mark":{"type":"line","color":"#00E5EE","strokeWidth":1,"clip":true},"encoding":{"x":{"field":"i","type":"quantitative","title":null},"y":{"field":"v","type":"quantitative","title":null}}},
{"data":{"name":"m"},"mark":{"type":"line","color":"#8B0000","strokeWidth":1,"clip":true},"encoding":{"x":{"field":"i","type":"quantitative","title":null},"y":{"field":"v","type":"quantitative","title":null}}},
{"data":{"name":"g"},"mark":{"type":"line","color":"#008000","strokeWidth":1,"clip":true},"encoding":{"x":{"field":"i","type":"quantitative","title":null},"y":{"field":"v","type":"quantitative","title":null}}},
{"data":{"name":"p"},"mark":{"type":"line","color":"#9370DB","strokeWidth":1,"clip":true},"encoding":{"x":{"field":"i","type":"quantitative","title":null},"y":{"field":"v","type":"quantitative","title":null}}},
{"data":{"name":"r"},"mark":{"type":"line","color":"#FF0000","strokeWidth":1,"clip":true},"encoding":{"x":{"field":"i","type":"quantitative","title":null},"y":{"field":"v","type":"quantitative","title":null}}},
{"data":{"name":"y"},"mark":{"type":"line","color":"#FFFF00","strokeWidth":1,"clip":true},"encoding":{"x":{"field":"i","type":"quantitative","title":null},"y":{"field":"v","type":"quantitative","title":null}}},
{"data":{"name":"w"},"mark":{"type":"line","color":"#FFFFFF","strokeWidth":1,"clip":true},"encoding":{"x":{"field":"i","type":"quantitative","title":null},"y":{"field":"v","type":"quantitative","title":null}}},
{"data":{"name":"tl"},"mark":{"type":"line","color":"#FF0000","strokeWidth":1,"strokeDash":[2,3]},"encoding":{"x":{"field":"i","type":"quantitative","title":null},"y":{"field":"v","type":"quantitative","title":null}}},
{"data":{"name":"fib"},"mark":{"type":"rule","color":"#FFFF00","strokeWidth":1},
 "encoding":{"x":{"datum":53.1,"type":"quantitative"},"x2":{"datum":419.875},"y":{"field":"p","type":"quantitative","title":null}}},
{"data":{"name":"fib"},"mark":{"type":"text","color":"#EEFF00","align":"right","baseline":"bottom","dy":-1,"font":"Liberation Sans","fontSize":10},
 "encoding":{"x":{"datum":419.6,"type":"quantitative"},"y":{"field":"p","type":"quantitative","title":null},"text":{"field":"lv"}}},
{"data":{"values":[{"t":"GBPUSD,Daily  1.27303 1.27364 1.27282 1.27342"}]},"mark":{"type":"text","color":"#FFFFFF","align":"left","baseline":"middle","font":"Liberation Sans","fontSize":10},
 "encoding":{"x":{"datum":0.9,"type":"quantitative"},"y":{"datum":1.3254,"type":"quantitative"},"text":{"field":"t"}}},
{"data":{"values":[{"t":"1.27342"}]},"mark":{"type":"rect","color":"#FFFFFF","clip":false},
 "encoding":{"x":{"datum":420.3,"type":"quantitative"},"x2":{"datum":430},"y":{"datum":1.27547,"type":"quantitative"},"y2":{"datum":1.27137}}},
{"data":{"values":[{"t":"1.27342"}]},"mark":{"type":"text","color":"#000000","align":"left","baseline":"middle","font":"Liberation Sans","fontSize":9.5,"clip":false},
 "encoding":{"x":{"datum":421,"type":"quantitative"},"y":{"datum":1.27342,"type":"quantitative"},"text":{"field":"t"}}},
{"data":{"values":[{"t":"shift"}]},"mark":{"type":"point","shape":"triangle-down","filled":true,"color":"#A9A9A9","size":40,"clip":false},
 "encoding":{"x":{"datum":335.6,"type":"quantitative"},"y":{"datum":1.32826,"type":"quantitative"}}}
]
}
